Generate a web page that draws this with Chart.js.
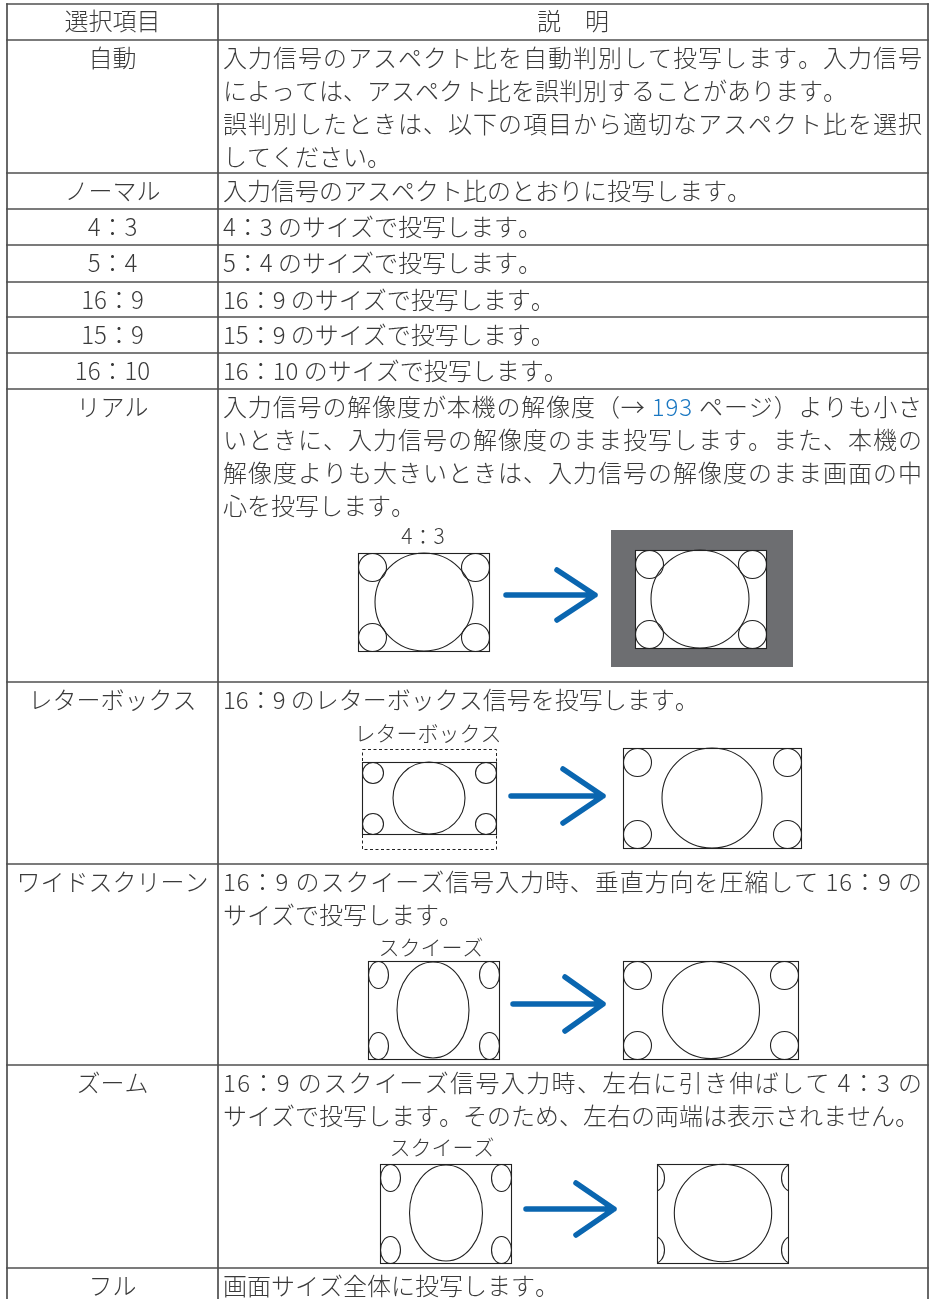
<!DOCTYPE html>
<html><head><meta charset="utf-8">
<script src="https://cdn.jsdelivr.net/npm/chart.js@4/dist/chart.umd.min.js"></script>
<style>html,body{margin:0;padding:0;background:#fff;}canvas{display:block;}</style>
</head><body>
<canvas id="c" width="934" height="1299"></canvas>
<script>
// ---------- DATA ----------
const headers = ["選択項目", "説　明"];
const items = ["自動", "ノーマル", "4：3", "5：4", "16：9", "15：9", "16：10", "リアル", "レターボックス", "ワイドスクリーン", "ズーム", "フル"];
// each description: paragraphs -> lines ; [..] marks link-coloured text
const descriptions = [
  [["入力信号のアスペクト比を自動判別して投写します。入力信号", "によっては、アスペクト比を誤判別することがあります。"],
   ["誤判別したときは、以下の項目から適切なアスペクト比を選択", "してください。"]],
  [["入力信号のアスペクト比のとおりに投写します。"]],
  [["4：3 のサイズで投写します。"]],
  [["5：4 のサイズで投写します。"]],
  [["16：9 のサイズで投写します。"]],
  [["15：9 のサイズで投写します。"]],
  [["16：10 のサイズで投写します。"]],
  [["入力信号の解像度が本機の解像度（→ [193] ページ）よりも小さ", "いときに、入力信号の解像度のまま投写します。また、本機の", "解像度よりも大きいときは、入力信号の解像度のまま画面の中", "心を投写します。"]],
  [["16：9 のレターボックス信号を投写します。"]],
  [["16：9 のスクイーズ信号入力時、垂直方向を圧縮して 16：9 の", "サイズで投写します。"]],
  [["16：9 のスクイーズ信号入力時、左右に引き伸ばして 4：3 の", "サイズで投写します。そのため、左右の両端は表示されません。"]],
  [["画面サイズ全体に投写します。"]]
];
const diagramLabels = {7: "4：3", 8: "レターボックス", 9: "スクイーズ", 10: "スクイーズ"};

// ---------- LAYOUT / STYLE ----------
const LAYOUT = {
  colX: [7, 218, 928],
  rowEdges: [4, 40, 173, 209, 245, 282, 317, 353, 389, 682, 864, 1065, 1268, 1304],
  textX: 223, textRight: 922, firstLine: 17.5, lineH: 33, headerY: 21
};
const STYLE = {
  font: "'Noto Sans CJK JP', 'Noto Sans', sans-serif", weight: 300,
  size: 24, labelSize: 21,
  text: "#3a3a3a", link: "#1b78c2", grid: "#4f4f4f", gridW: 1.7,
  draw: "#222222", arrow: "#0a66b0", gray: "#6d6e71"
};
// diagram geometry (layout units)
const DIAGRAMS = {
  7: { label: [423, 536],
       screens: [
         {box: [358, 553, 489, 651], big: [424, 602, 49, 49], corner: [14, 14]},
         {box: [635, 550, 766, 648], big: [700, 599, 49, 49], corner: [14, 14], backdrop: [611, 530, 793, 667]}
       ],
       arrow: {x0: 506, x1: 595, y: 595, hx: 557, hdy: 25} },
  8: { label: [428, 733],
       dashed: [362, 749, 496, 849],
       screens: [
         {box: [362, 762, 496, 834], big: [429, 798, 36, 36], corner: [10.5, 10.5]},
         {box: [623, 748, 801, 848], big: [712, 798, 50, 50], corner: [14, 14]}
       ],
       arrow: {x0: 511, x1: 603, y: 796, hx: 563, hdy: 27} },
  9: { label: [431, 947],
       screens: [
         {box: [368, 961, 499, 1059], big: [433, 1010, 36, 48], corner: [10, 13.5]},
         {box: [623, 961, 798, 1059], big: [711, 1010, 48.5, 48.5], corner: [14, 14]}
       ],
       arrow: {x0: 513, x1: 603, y: 1004, hx: 565, hdy: 27} },
  10: { label: [442, 1147],
       screens: [
         {box: [380, 1164, 511, 1263], big: [446, 1213, 36.5, 48], corner: [10, 13.5]},
         {box: [657, 1164, 788, 1263], big: [723, 1213, 48.7, 48.7], corner: [10, 13.5], cut: 3}
       ],
       arrow: {x0: 526, x1: 614, y: 1209, hx: 576, hdy: 26} }
};

// ---------- GRID DATASETS ----------
const gridDatasets = [];
const C = LAYOUT.colX, R = LAYOUT.rowEdges;
R.forEach(y => gridDatasets.push({data: [{x: C[0], y: y}, {x: C[2], y: y}]}));
C.forEach(x => gridDatasets.push({data: [{x: x, y: R[0]}, {x: x, y: R[R.length - 1]}]}));
gridDatasets.forEach(d => Object.assign(d, {showLine: true, pointRadius: 0, borderColor: STYLE.grid, borderWidth: STYLE.gridW, fill: false, borderCapStyle: 'square'}));

// ---------- DRAWING PLUGIN ----------
function drawLine(ctx, text, x, y, target, justify) {
  const chars = []; let link = false;
  for (const ch of text) {
    if (ch === '[') { link = true; continue; }
    if (ch === ']') { link = false; continue; }
    chars.push({ch, link});
  }
  const widths = chars.map(c => ctx.measureText(c.ch).width);
  const total = widths.reduce((a, b) => a + b, 0);
  let gap = 0;
  if (justify && chars.length > 1) gap = (target - total) / (chars.length - 1);
  let cx = x;
  chars.forEach((c, i) => {
    ctx.fillStyle = c.link ? STYLE.link : STYLE.text;
    ctx.fillText(c.ch, cx, y);
    cx += widths[i] + gap;
  });
}

const tablePlugin = {
  id: 'tableContent',
  afterDatasetsDraw(chart) {
    const ctx = chart.ctx, sx = chart.scales.x, sy = chart.scales.y;
    const X = v => sx.getPixelForValue(v), Y = v => sy.getPixelForValue(v);
    const DX = v => X(v) - X(0), DY = v => Y(v) - Y(0);
    const F = s => STYLE.weight + " " + s + "px " + STYLE.font;
    ctx.save();
    ctx.textBaseline = 'middle';
    ctx.font = F(STYLE.size);
    // header
    ctx.fillStyle = STYLE.text; ctx.textAlign = 'center';
    ctx.fillText(headers[0], X((C[0] + C[1]) / 2), Y(LAYOUT.headerY));
    ctx.fillText(headers[1], X((C[1] + C[2]) / 2), Y(LAYOUT.headerY));
    // rows
    items.forEach((it, i) => {
      const top = R[i + 1];
      ctx.textAlign = 'center'; ctx.fillStyle = STYLE.text;
      ctx.fillText(it, X((C[0] + C[1]) / 2), Y(top + LAYOUT.firstLine));
      ctx.textAlign = 'left';
      let ln = 0;
      descriptions[i].forEach(par => {
        par.forEach((line, k) => {
          const y = top + LAYOUT.firstLine + ln * LAYOUT.lineH;
          drawLine(ctx, line, X(LAYOUT.textX), Y(y), X(LAYOUT.textRight) - X(LAYOUT.textX), k < par.length - 1);
          ln++;
        });
      });
    });
    // diagrams
    Object.keys(DIAGRAMS).forEach(key => {
      const d = DIAGRAMS[key];
      ctx.font = F(STYLE.labelSize);
      ctx.textAlign = 'center'; ctx.fillStyle = STYLE.text;
      ctx.fillText(diagramLabels[key], X(d.label[0]), Y(d.label[1]));
      ctx.strokeStyle = STYLE.draw; ctx.lineWidth = 1;
      if (d.dashed) {
        ctx.save(); ctx.setLineDash([3, 2.5]);
        const b = d.dashed;
        ctx.strokeRect(X(b[0]) + 0.5, Y(b[1]) + 0.5, X(b[2]) - X(b[0]), Y(b[3]) - Y(b[1]));
        ctx.restore();
      }
      d.screens.forEach(s => {
        const b = s.box;
        if (s.backdrop) {
          const g = s.backdrop; ctx.fillStyle = STYLE.gray;
          ctx.fillRect(X(g[0]), Y(g[1]), X(g[2]) - X(g[0]), Y(g[3]) - Y(g[1]));
          ctx.fillStyle = '#fff';
          ctx.fillRect(X(b[0]), Y(b[1]), X(b[2]) - X(b[0]), Y(b[3]) - Y(b[1]));
        }
        ctx.strokeStyle = STYLE.draw; ctx.lineWidth = 1.1;
        ctx.strokeRect(X(b[0]) + 0.5, Y(b[1]) + 0.5, X(b[2]) - X(b[0]), Y(b[3]) - Y(b[1]));
        ctx.beginPath();
        ctx.ellipse(X(s.big[0]), Y(s.big[1]), DX(s.big[2]), DY(s.big[3]), 0, 0, Math.PI * 2);
        ctx.stroke();
        const [rx, ry] = s.corner;
        let pts;
        if (s.cut !== undefined) {
          pts = [[b[0] - s.cut, b[1] + ry], [b[2] + s.cut, b[1] + ry], [b[0] - s.cut, b[3] - ry], [b[2] + s.cut, b[3] - ry]];
        } else {
          pts = [[b[0] + rx, b[1] + ry], [b[2] - rx, b[1] + ry], [b[0] + rx, b[3] - ry], [b[2] - rx, b[3] - ry]];
        }
        ctx.save();
        ctx.beginPath(); ctx.rect(X(b[0]), Y(b[1]), X(b[2]) - X(b[0]) + 1, Y(b[3]) - Y(b[1]) + 1); ctx.clip();
        pts.forEach(p => {
          ctx.beginPath();
          ctx.ellipse(X(p[0]) + 0.5, Y(p[1]) + 0.5, DX(rx), DY(ry), 0, 0, Math.PI * 2);
          ctx.stroke();
        });
        ctx.restore();
      });
      // arrow
      const a = d.arrow;
      ctx.strokeStyle = STYLE.arrow; ctx.lineWidth = 5.5; ctx.lineCap = 'round'; ctx.lineJoin = 'round';
      ctx.beginPath();
      ctx.moveTo(X(a.x0), Y(a.y)); ctx.lineTo(X(a.x1), Y(a.y));
      ctx.moveTo(X(a.hx), Y(a.y - a.hdy)); ctx.lineTo(X(a.x1), Y(a.y)); ctx.lineTo(X(a.hx), Y(a.y + a.hdy));
      ctx.stroke();
      ctx.lineCap = 'butt'; ctx.lineJoin = 'miter';
    });
    ctx.restore();
  }
};

function build() {
  new Chart(document.getElementById('c'), {
    type: 'scatter',
    data: {datasets: gridDatasets},
    options: {
      responsive: false, animation: false, devicePixelRatio: 1, events: [],
      layout: {padding: 0},
      plugins: {legend: {display: false}, tooltip: {enabled: false}},
      scales: {
        x: {type: 'linear', min: 0, max: 934, display: false},
        y: {type: 'linear', min: 0, max: 1299, reverse: true, display: false}
      }
    },
    plugins: [tablePlugin]
  });
}
if (document.fonts && document.fonts.load) {
  Promise.race([document.fonts.load("300 24px 'Noto Sans CJK JP'", "入力"), new Promise(r => setTimeout(r, 800))]).then(build, build);
} else build();
</script>
</body></html>
